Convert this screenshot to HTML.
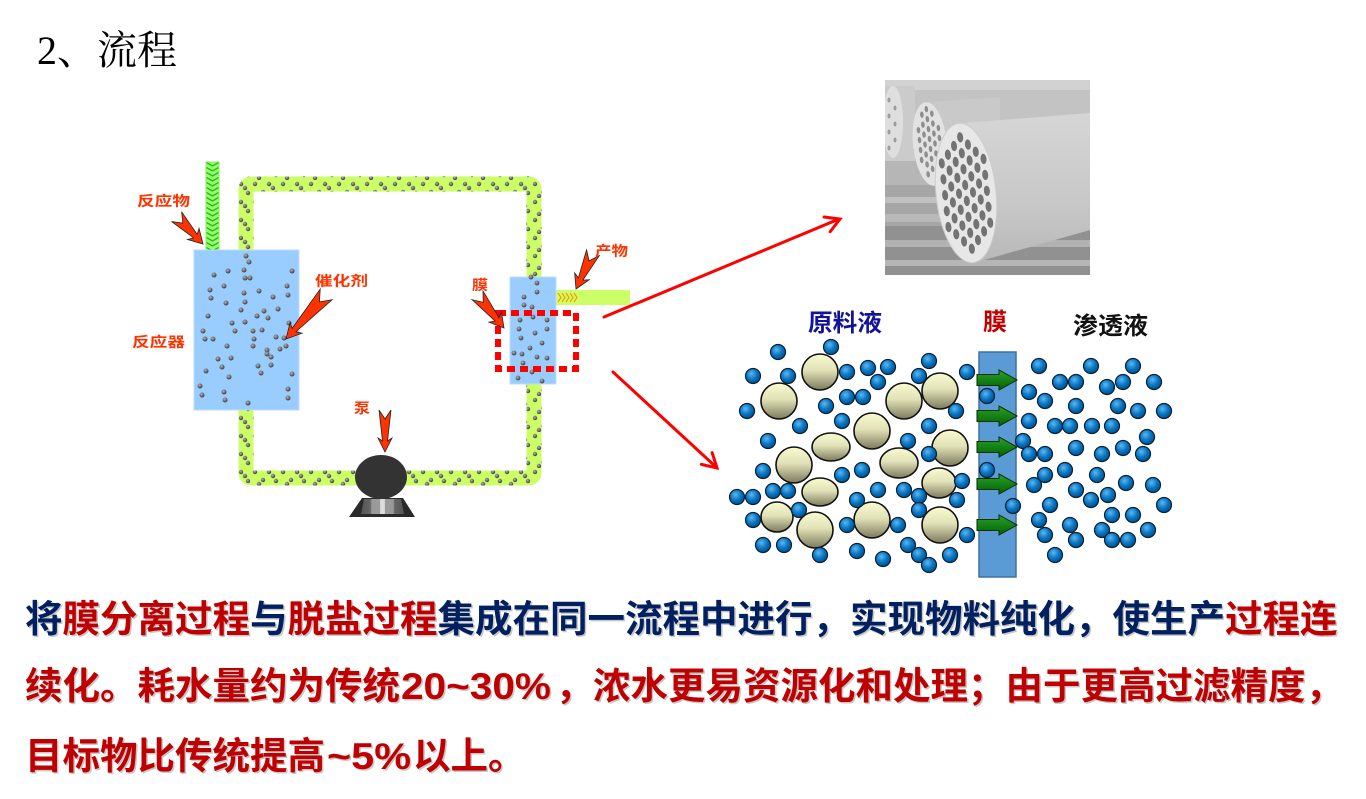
<!DOCTYPE html>
<html><head><meta charset="utf-8"><style>
html,body{margin:0;padding:0;background:#fff;}
svg{display:block;}
</style></head><body>
<svg width="1366" height="799" viewBox="0 0 1366 799" xmlns="http://www.w3.org/2000/svg">
<defs>
<radialGradient id="dg" cx="0.4" cy="0.35" r="0.65"><stop offset="0" stop-color="#b4b4b4"/><stop offset="1" stop-color="#3a3a3a"/></radialGradient>
<pattern id="pd" x="0" y="0" width="28" height="18" patternUnits="userSpaceOnUse">
<g fill="url(#dg)"><circle cx="3" cy="4" r="2.2"/><circle cx="11" cy="12" r="2.2"/><circle cx="17" cy="4" r="2.2"/><circle cx="24" cy="13" r="2.2"/><circle cx="7" cy="16" r="2.2"/><circle cx="21" cy="8" r="2.2"/></g>
</pattern>
<pattern id="chev" x="206" y="162" width="13" height="5" patternUnits="userSpaceOnUse"><rect width="13" height="5" fill="#99ff66"/><polyline points="0.5,0.5 6.5,4 12.5,0.5" fill="none" stroke="#22bb22" stroke-width="1.4"/></pattern>
<radialGradient id="bc" cx="0.4" cy="0.35" r="0.65"><stop offset="0" stop-color="#5cb8f2"/><stop offset="0.55" stop-color="#0a78c6"/><stop offset="1" stop-color="#00528e"/></radialGradient>
<linearGradient id="cr" x1="0" y1="0" x2="0" y2="1"><stop offset="0" stop-color="#fafad0"/><stop offset="0.45" stop-color="#e2e2b8"/><stop offset="1" stop-color="#7c7a5c"/></linearGradient>
<linearGradient id="ga" x1="0" y1="0" x2="0" y2="1"><stop offset="0" stop-color="#2aa02a"/><stop offset="1" stop-color="#006400"/></linearGradient>
<clipPath id="ph"><rect x="885" y="80" width="205" height="195"/></clipPath>
<linearGradient id="body" x1="0" y1="0" x2="0" y2="1"><stop offset="0" stop-color="#d6d6d6"/><stop offset="0.6" stop-color="#c8c8c8"/><stop offset="1" stop-color="#b8b8b8"/></linearGradient>
<linearGradient id="pumpg" x1="0" y1="0" x2="1" y2="0"><stop offset="0" stop-color="#555"/><stop offset="0.22" stop-color="#666"/><stop offset="0.25" stop-color="#999"/><stop offset="0.44" stop-color="#9a9a9a"/><stop offset="0.45" stop-color="#ddd"/><stop offset="0.55" stop-color="#ddd"/><stop offset="0.56" stop-color="#9a9a9a"/><stop offset="0.75" stop-color="#999"/><stop offset="0.78" stop-color="#666"/><stop offset="1" stop-color="#555"/></linearGradient>
</defs>

<!-- Title -->
<text x="37" y="64" font-family="'Liberation Serif','Noto Serif CJK SC',serif" font-size="40" fill="#000">2、流程</text>

<!-- Pipe loop -->
<rect x="246" y="184" width="288" height="294" rx="5" fill="none" stroke="#ccff66" stroke-width="15"/>
<rect x="246" y="184" width="288" height="294" rx="5" fill="none" stroke="url(#pd)" stroke-width="15"/>

<!-- Feed pipe -->
<rect x="206" y="162" width="13" height="88" fill="url(#chev)" stroke="#88ee66" stroke-width="1"/>

<!-- Product pipe -->
<rect x="556" y="290" width="74" height="15" fill="#ccff66"/>
<g fill="none" stroke="#ff9900" stroke-width="1.2">
<polyline points="558,293 561,297.5 558,302"/><polyline points="562,293 565,297.5 562,302"/><polyline points="566,293 569,297.5 566,302"/><polyline points="570,293 573,297.5 570,302"/><polyline points="574,293 577,297.5 574,302"/>
</g>

<!-- Reactor -->
<rect x="194" y="250" width="105" height="160" fill="#99ccff" stroke="#bcdcff" stroke-width="1"/>
<g fill="url(#dg)">
<circle cx="214" cy="275" r="2.5"/><circle cx="228" cy="271" r="2.5"/><circle cx="244" cy="270" r="2.5"/><circle cx="292" cy="271" r="2.5"/><circle cx="245" cy="278" r="2.5"/><circle cx="250" cy="278" r="2.5"/><circle cx="210" cy="290" r="2.5"/><circle cx="224" cy="286" r="2.5"/><circle cx="244" cy="293" r="2.5"/><circle cx="259" cy="291" r="2.5"/><circle cx="287" cy="286" r="2.5"/><circle cx="211" cy="298" r="2.5"/><circle cx="226" cy="303" r="2.5"/><circle cx="245" cy="302" r="2.5"/><circle cx="273" cy="297" r="2.5"/><circle cx="288" cy="295" r="2.5"/><circle cx="241" cy="310" r="2.5"/><circle cx="264" cy="311" r="2.5"/><circle cx="278" cy="309" r="2.5"/><circle cx="208" cy="316" r="2.5"/><circle cx="257" cy="316" r="2.5"/><circle cx="268" cy="318" r="2.5"/><circle cx="245" cy="322" r="2.5"/><circle cx="232" cy="323" r="2.5"/><circle cx="289" cy="323" r="2.5"/><circle cx="203" cy="331" r="2.5"/><circle cx="235" cy="331" r="2.5"/><circle cx="253" cy="331" r="2.5"/><circle cx="262" cy="330" r="2.5"/><circle cx="276" cy="337" r="2.5"/><circle cx="284" cy="338" r="2.5"/><circle cx="205" cy="339" r="2.5"/><circle cx="213" cy="339" r="2.5"/><circle cx="254" cy="339" r="2.5"/><circle cx="227" cy="346" r="2.5"/><circle cx="253" cy="346" r="2.5"/><circle cx="286" cy="346" r="2.5"/><circle cx="280" cy="349" r="2.5"/><circle cx="267" cy="350" r="2.5"/><circle cx="267" cy="354" r="2.5"/><circle cx="218" cy="359" r="2.5"/><circle cx="231" cy="358" r="2.5"/><circle cx="271" cy="357" r="2.5"/><circle cx="271" cy="365" r="2.5"/><circle cx="258" cy="366" r="2.5"/><circle cx="222" cy="367" r="2.5"/><circle cx="206" cy="371" r="2.5"/><circle cx="261" cy="373" r="2.5"/><circle cx="292" cy="374" r="2.5"/><circle cx="229" cy="377" r="2.5"/><circle cx="200" cy="386" r="2.5"/><circle cx="202" cy="395" r="2.5"/><circle cx="224" cy="392" r="2.5"/><circle cx="225" cy="400" r="2.5"/><circle cx="288" cy="389" r="2.5"/><circle cx="288" cy="398" r="2.5"/><circle cx="248" cy="403" r="2.5"/><circle cx="246" cy="256" r="2.5"/><circle cx="249" cy="262" r="2.5"/>
</g>

<!-- Membrane module -->
<rect x="510" y="277" width="46" height="107" fill="#99ccff" stroke="#bcdcff" stroke-width="1"/>
<g fill="url(#dg)">
<circle cx="531" cy="277" r="2.4"/><circle cx="537" cy="283" r="2.4"/><circle cx="537" cy="292" r="2.4"/><circle cx="524" cy="297" r="2.4"/><circle cx="524" cy="305" r="2.4"/><circle cx="532" cy="307" r="2.4"/><circle cx="520" cy="320" r="2.4"/><circle cx="533" cy="317" r="2.4"/><circle cx="547" cy="320" r="2.4"/><circle cx="519" cy="329" r="2.4"/><circle cx="535" cy="333" r="2.4"/><circle cx="547" cy="329" r="2.4"/><circle cx="521" cy="338" r="2.4"/><circle cx="530" cy="348" r="2.4"/><circle cx="542" cy="343" r="2.4"/><circle cx="514" cy="353" r="2.4"/><circle cx="522" cy="354" r="2.4"/><circle cx="537" cy="357" r="2.4"/><circle cx="547" cy="358" r="2.4"/><circle cx="523" cy="363" r="2.4"/><circle cx="532" cy="372" r="2.4"/><circle cx="518" cy="378" r="2.4"/><circle cx="542" cy="381" r="2.4"/>
</g>
<rect x="498" y="313" width="78" height="56" fill="none" stroke="#ff0000" stroke-width="6" stroke-dasharray="8 5"/>

<!-- Pump -->
<polygon points="362,498 403,498 415,517 349,517" fill="#2a2a2a"/>
<polygon points="364,499 401,499 404,514 361,514" fill="url(#pumpg)"/>
<ellipse cx="381" cy="477" rx="26" ry="22" fill="#333"/>

<!-- Callout arrows -->
<g fill="#ff3300" stroke="#222" stroke-width="0.8" stroke-linejoin="miter">
<polygon transform="translate(203,244) rotate(46)" points="0,0 -14,-8 -11,-2.5 -38,-7 -29,0 -38,7 -11,2.5 -14,8"/>
<polygon transform="translate(286,339) rotate(132)" points="0,0 -15,-8 -12,-2.5 -60,-8 -50,0 -60,8 -12,2.5 -15,8"/>
<polygon transform="translate(385,452) rotate(90)" points="0,0 -14,-7 -11,-2.5 -42,-6 -33,0 -42,6 -11,2.5 -14,7"/>
<polygon transform="translate(504,328) rotate(51)" points="0,0 -14,-8 -11,-2.5 -42,-7 -33,0 -42,7 -11,2.5 -14,8"/>
<polygon transform="translate(576,289) rotate(115)" points="0,0 -14,-8 -11,-2.5 -40,-7 -31,0 -40,7 -11,2.5 -14,8"/>
</g>

<!-- Left labels -->
<g font-family="'Liberation Sans','Noto Sans CJK SC',sans-serif" font-weight="700" fill="#ff3300" font-size="14">
<text x="137" y="206" textLength="53" lengthAdjust="spacingAndGlyphs">反应物</text>
<text x="315" y="286" textLength="53" lengthAdjust="spacingAndGlyphs">催化剂</text>
<text x="132" y="347" textLength="53" lengthAdjust="spacingAndGlyphs">反应器</text>
<text x="354" y="413" textLength="16" lengthAdjust="spacingAndGlyphs">泵</text>
<text x="472" y="290" textLength="16" lengthAdjust="spacingAndGlyphs">膜</text>
<text x="595" y="256" textLength="33" lengthAdjust="spacingAndGlyphs">产物</text>
</g>

<!-- Red connecting arrows -->
<g stroke="#ff0000" stroke-width="3" fill="none" stroke-linecap="round">
<line x1="604" y1="317" x2="839" y2="219"/>
<polyline transform="translate(840,219) rotate(-22.5)" points="-14,-8 0,0 -14,8"/>
<line x1="613" y1="372" x2="716" y2="467"/>
<polyline transform="translate(717,468) rotate(42.7)" points="-14,-8 0,0 -14,8"/>
</g>

<!-- Photo -->
<g clip-path="url(#ph)">
<rect x="885" y="80" width="205" height="195" fill="#b6b6b6"/>
<rect x="885" y="80" width="205" height="10" fill="#d2d2d2"/>
<rect x="885" y="90" width="205" height="30" fill="#c3c3c3"/>
<rect x="885" y="185" width="60" height="90" fill="#a6a6a6"/>
<rect x="885" y="197" width="60" height="6" fill="#c0c0c0"/>
<rect x="885" y="214" width="60" height="8" fill="#b8b8b8"/>
<rect x="885" y="226" width="205" height="49" fill="#919191"/>
<rect x="885" y="240" width="205" height="7" fill="#b2b2b2"/>
<rect x="885" y="260" width="205" height="6" fill="#b6b6b6"/>
<rect x="885" y="86" width="30" height="75" fill="#cbcbcb"/>
<ellipse cx="893" cy="122" rx="10" ry="36" fill="#dedede"/>
<g fill="#9c9c9c"><ellipse cx="889" cy="100" rx="1.5" ry="2.5"/><ellipse cx="895" cy="108" rx="1.5" ry="2.5"/><ellipse cx="889" cy="116" rx="1.5" ry="2.5"/><ellipse cx="895" cy="124" rx="1.5" ry="2.5"/><ellipse cx="889" cy="132" rx="1.5" ry="2.5"/><ellipse cx="895" cy="140" rx="1.5" ry="2.5"/><ellipse cx="889" cy="148" rx="1.5" ry="2.5"/></g>
<polygon points="928,102 1000,97 1000,190 935,187" fill="#c9c9c9"/>
<g transform="translate(930,144) rotate(-6)">
<ellipse rx="17" ry="42" fill="#e2e2e2"/>
<g fill="#8e8e8e">
<ellipse cx="-10" cy="-15" rx="1.8" ry="3.2"/><ellipse cx="-10" cy="-5" rx="1.8" ry="3.2"/><ellipse cx="-10" cy="5" rx="1.8" ry="3.2"/><ellipse cx="-10" cy="15" rx="1.8" ry="3.2"/>
<ellipse cx="-5" cy="-30" rx="1.8" ry="3.2"/><ellipse cx="-5" cy="-20" rx="1.8" ry="3.2"/><ellipse cx="-5" cy="-10" rx="1.8" ry="3.2"/><ellipse cx="-5" cy="0" rx="1.8" ry="3.2"/><ellipse cx="-5" cy="10" rx="1.8" ry="3.2"/><ellipse cx="-5" cy="20" rx="1.8" ry="3.2"/><ellipse cx="-5" cy="30" rx="1.8" ry="3.2"/>
<ellipse cx="0" cy="-35" rx="1.8" ry="3.2"/><ellipse cx="0" cy="-25" rx="1.8" ry="3.2"/><ellipse cx="0" cy="-15" rx="1.8" ry="3.2"/><ellipse cx="0" cy="-5" rx="1.8" ry="3.2"/><ellipse cx="0" cy="5" rx="1.8" ry="3.2"/><ellipse cx="0" cy="15" rx="1.8" ry="3.2"/><ellipse cx="0" cy="25" rx="1.8" ry="3.2"/>
<ellipse cx="5" cy="-30" rx="1.8" ry="3.2"/><ellipse cx="5" cy="-20" rx="1.8" ry="3.2"/><ellipse cx="5" cy="-10" rx="1.8" ry="3.2"/><ellipse cx="5" cy="0" rx="1.8" ry="3.2"/><ellipse cx="5" cy="10" rx="1.8" ry="3.2"/>
<ellipse cx="10" cy="-15" rx="1.8" ry="3.2"/><ellipse cx="10" cy="-5" rx="1.8" ry="3.2"/>
</g></g>
<polygon points="963,123 1090,113 1090,230 977,262" fill="url(#body)"/>
<g transform="translate(966,193) rotate(-6)">
<ellipse rx="30" ry="70" fill="#e7e7e7" stroke="#cdcdcd" stroke-width="1"/>
<g fill="#737373">
<ellipse cx="-21" cy="-32" rx="3" ry="5.2"/><ellipse cx="-21" cy="-16" rx="3" ry="5.2"/><ellipse cx="-21" cy="0" rx="3" ry="5.2"/><ellipse cx="-21" cy="16" rx="3" ry="5.2"/><ellipse cx="-21" cy="32" rx="3" ry="5.2"/>
<ellipse cx="-14" cy="-40" rx="3" ry="5.2"/><ellipse cx="-14" cy="-24" rx="3" ry="5.2"/><ellipse cx="-14" cy="-8" rx="3" ry="5.2"/><ellipse cx="-14" cy="8" rx="3" ry="5.2"/><ellipse cx="-14" cy="24" rx="3" ry="5.2"/><ellipse cx="-14" cy="40" rx="3" ry="5.2"/>
<ellipse cx="-7" cy="-48" rx="3" ry="5.2"/><ellipse cx="-7" cy="-32" rx="3" ry="5.2"/><ellipse cx="-7" cy="-16" rx="3" ry="5.2"/><ellipse cx="-7" cy="0" rx="3" ry="5.2"/><ellipse cx="-7" cy="16" rx="3" ry="5.2"/><ellipse cx="-7" cy="32" rx="3" ry="5.2"/><ellipse cx="-7" cy="48" rx="3" ry="5.2"/>
<ellipse cx="0" cy="-56" rx="3" ry="5.2"/><ellipse cx="0" cy="-40" rx="3" ry="5.2"/><ellipse cx="0" cy="-24" rx="3" ry="5.2"/><ellipse cx="0" cy="-8" rx="3" ry="5.2"/><ellipse cx="0" cy="8" rx="3" ry="5.2"/><ellipse cx="0" cy="24" rx="3" ry="5.2"/><ellipse cx="0" cy="40" rx="3" ry="5.2"/><ellipse cx="0" cy="56" rx="3" ry="5.2"/>
<ellipse cx="7" cy="-48" rx="3" ry="5.2"/><ellipse cx="7" cy="-32" rx="3" ry="5.2"/><ellipse cx="7" cy="-16" rx="3" ry="5.2"/><ellipse cx="7" cy="0" rx="3" ry="5.2"/><ellipse cx="7" cy="16" rx="3" ry="5.2"/><ellipse cx="7" cy="32" rx="3" ry="5.2"/><ellipse cx="7" cy="48" rx="3" ry="5.2"/>
<ellipse cx="14" cy="-40" rx="3" ry="5.2"/><ellipse cx="14" cy="-24" rx="3" ry="5.2"/><ellipse cx="14" cy="-8" rx="3" ry="5.2"/><ellipse cx="14" cy="8" rx="3" ry="5.2"/><ellipse cx="14" cy="24" rx="3" ry="5.2"/><ellipse cx="14" cy="40" rx="3" ry="5.2"/>
<ellipse cx="21" cy="-32" rx="3" ry="5.2"/><ellipse cx="21" cy="-16" rx="3" ry="5.2"/><ellipse cx="21" cy="0" rx="3" ry="5.2"/><ellipse cx="21" cy="16" rx="3" ry="5.2"/><ellipse cx="21" cy="32" rx="3" ry="5.2"/>
</g></g>
</g>

<!-- Membrane diagram -->
<g font-family="'Liberation Sans','Noto Sans CJK SC',sans-serif" font-weight="700" font-size="24">
<text x="808" y="331" fill="#13139a" textLength="74" lengthAdjust="spacingAndGlyphs">原料液</text>
<text x="983" y="330" fill="#c00000" textLength="24" lengthAdjust="spacingAndGlyphs">膜</text>
<text x="1073" y="334" fill="#111" textLength="75" lengthAdjust="spacingAndGlyphs">渗透液</text>
</g>
<rect x="979" y="352" width="37" height="225" fill="#5b9bd5" stroke="#41719c" stroke-width="1.5"/>
<g fill="url(#ga)" stroke="#0a2a0a" stroke-width="1">
<polygon points="977,374.5 999,374.5 999,370 1017,380 999,390 999,385.5 977,385.5"/>
<polygon points="977,410.5 999,410.5 999,406 1017,416 999,426 999,421.5 977,421.5"/>
<polygon points="977,441.5 999,441.5 999,437 1017,447 999,457 999,452.5 977,452.5"/>
<polygon points="977,478.5 999,478.5 999,474 1017,484 999,494 999,489.5 977,489.5"/>
<polygon points="977,519.5 999,519.5 999,515 1017,525 999,535 999,530.5 977,530.5"/>
</g>
<g fill="url(#cr)" stroke="#111" stroke-width="1.6">
<circle cx="820" cy="372" r="18"/><circle cx="779" cy="401" r="18"/><circle cx="904" cy="401" r="18"/><circle cx="940" cy="391" r="18"/><circle cx="872" cy="431" r="18"/>
<ellipse cx="831" cy="447" rx="19" ry="14"/><circle cx="950" cy="448" r="18"/><circle cx="794" cy="465" r="18"/><ellipse cx="899" cy="463" rx="19" ry="15"/><ellipse cx="820" cy="492" rx="18" ry="14"/>
<ellipse cx="939" cy="483" rx="17" ry="15"/><ellipse cx="777" cy="517" rx="16" ry="15"/><circle cx="815" cy="530" r="18"/><circle cx="872" cy="520" r="18"/><circle cx="940" cy="525" r="18"/>
</g>
<g fill="url(#bc)" stroke="#0d1f33" stroke-width="1.2">
<circle cx="778" cy="352" r="7.5"/><circle cx="831" cy="347" r="7.5"/><circle cx="753" cy="376" r="7.5"/><circle cx="788" cy="376" r="7.5"/><circle cx="847" cy="372" r="7.5"/><circle cx="868" cy="368" r="7.5"/><circle cx="888" cy="367" r="7.5"/><circle cx="929" cy="361" r="7.5"/><circle cx="967" cy="372" r="7.5"/><circle cx="878" cy="382" r="7.5"/><circle cx="919" cy="376" r="7.5"/><circle cx="847" cy="397" r="7.5"/><circle cx="863" cy="397" r="7.5"/><circle cx="987" cy="396" r="7.5"/><circle cx="747" cy="411" r="7.5"/><circle cx="826" cy="406" r="7.5"/><circle cx="956" cy="411" r="7.5"/><circle cx="800" cy="426" r="7.5"/><circle cx="842" cy="421" r="7.5"/><circle cx="929" cy="426" r="7.5"/><circle cx="768" cy="441" r="7.5"/><circle cx="908" cy="441" r="7.5"/><circle cx="929" cy="454" r="7.5"/><circle cx="1023" cy="441" r="7.5"/><circle cx="763" cy="471" r="7.5"/><circle cx="842" cy="475" r="7.5"/><circle cx="862" cy="470" r="7.5"/><circle cx="987" cy="470" r="7.5"/><circle cx="962" cy="481" r="7.5"/><circle cx="737" cy="497" r="7.5"/><circle cx="753" cy="497" r="7.5"/><circle cx="773" cy="491" r="7.5"/><circle cx="788" cy="491" r="7.5"/><circle cx="878" cy="490" r="7.5"/><circle cx="904" cy="490" r="7.5"/><circle cx="919" cy="496" r="7.5"/><circle cx="857" cy="500" r="7.5"/><circle cx="957" cy="500" r="7.5"/><circle cx="919" cy="510" r="7.5"/><circle cx="799" cy="510" r="7.5"/><circle cx="1013" cy="506" r="7.5"/><circle cx="753" cy="520" r="7.5"/><circle cx="847" cy="525" r="7.5"/><circle cx="898" cy="525" r="7.5"/><circle cx="967" cy="535" r="7.5"/><circle cx="763" cy="545" r="7.5"/><circle cx="784" cy="545" r="7.5"/><circle cx="908" cy="545" r="7.5"/><circle cx="820" cy="555" r="7.5"/><circle cx="857" cy="551" r="7.5"/><circle cx="883" cy="559" r="7.5"/><circle cx="919" cy="555" r="7.5"/><circle cx="929" cy="565" r="7.5"/><circle cx="950" cy="555" r="7.5"/>
<circle cx="1039" cy="366" r="7.5"/><circle cx="1091" cy="366" r="7.5"/><circle cx="1133" cy="366" r="7.5"/><circle cx="1060" cy="382" r="7.5"/><circle cx="1076" cy="382" r="7.5"/><circle cx="1107" cy="387" r="7.5"/><circle cx="1123" cy="382" r="7.5"/><circle cx="1154" cy="382" r="7.5"/><circle cx="1029" cy="392" r="7.5"/><circle cx="1045" cy="401" r="7.5"/><circle cx="1076" cy="406" r="7.5"/><circle cx="1118" cy="406" r="7.5"/><circle cx="1138" cy="411" r="7.5"/><circle cx="1164" cy="411" r="7.5"/><circle cx="1029" cy="421" r="7.5"/><circle cx="1055" cy="426" r="7.5"/><circle cx="1070" cy="426" r="7.5"/><circle cx="1092" cy="426" r="7.5"/><circle cx="1112" cy="426" r="7.5"/><circle cx="1147" cy="437" r="7.5"/><circle cx="1029" cy="454" r="7.5"/><circle cx="1045" cy="454" r="7.5"/><circle cx="1076" cy="448" r="7.5"/><circle cx="1102" cy="454" r="7.5"/><circle cx="1123" cy="448" r="7.5"/><circle cx="1143" cy="454" r="7.5"/><circle cx="1045" cy="475" r="7.5"/><circle cx="1065" cy="470" r="7.5"/><circle cx="1097" cy="475" r="7.5"/><circle cx="1034" cy="485" r="7.5"/><circle cx="1076" cy="490" r="7.5"/><circle cx="1091" cy="500" r="7.5"/><circle cx="1108" cy="495" r="7.5"/><circle cx="1126" cy="483" r="7.5"/><circle cx="1153" cy="485" r="7.5"/><circle cx="1050" cy="505" r="7.5"/><circle cx="1164" cy="505" r="7.5"/><circle cx="1039" cy="520" r="7.5"/><circle cx="1070" cy="525" r="7.5"/><circle cx="1112" cy="515" r="7.5"/><circle cx="1133" cy="515" r="7.5"/><circle cx="1102" cy="530" r="7.5"/><circle cx="1148" cy="530" r="7.5"/><circle cx="1045" cy="535" r="7.5"/><circle cx="1076" cy="540" r="7.5"/><circle cx="1112" cy="540" r="7.5"/><circle cx="1128" cy="540" r="7.5"/><circle cx="1055" cy="555" r="7.5"/>
</g>

<!-- Bottom paragraph -->
<g font-family="'Liberation Sans','Noto Sans CJK SC',sans-serif" font-weight="700" font-size="37.5">
<g fill="#c8c8c8" transform="translate(1.5,1.5)">
<text x="25" y="632">将膜分离过程与脱盐过程集成在同一流程中进行，实现物料纯化，使生产过程连</text>
<text x="25" y="699">续化。耗水量约为传统</text>
<text x="401" y="699" textLength="150" lengthAdjust="spacingAndGlyphs">20~30%</text>
<text x="555.5" y="699">，浓水更易资源化和处理；由于更高过滤精度，</text>
<text x="25" y="769">目标物比传统提高</text>
<text x="327" y="769" textLength="84" lengthAdjust="spacingAndGlyphs">~5%</text>
<text x="413" y="769">以上。</text>
</g>
<text x="25" y="632" fill="#002060">将</text>
<text x="62.5" y="632" fill="#c00000">膜分离过程</text>
<text x="250" y="632" fill="#002060">与</text>
<text x="287.5" y="632" fill="#c00000">脱盐过程</text>
<text x="437.5" y="632" fill="#002060">集成在同一流程中进行，实现物料纯化，使生产</text>
<text x="1225" y="632" fill="#c00000">过程连</text>
<g fill="#c00000">
<text x="25" y="699">续化。耗水量约为传统</text>
<text x="401" y="699" textLength="150" lengthAdjust="spacingAndGlyphs">20~30%</text>
<text x="555.5" y="699">，浓水更易资源化和处理；由于更高过滤精度，</text>
<text x="25" y="769">目标物比传统提高</text>
<text x="327" y="769" textLength="84" lengthAdjust="spacingAndGlyphs">~5%</text>
<text x="413" y="769">以上。</text>
</g>
</g>
</svg>
</body></html>
